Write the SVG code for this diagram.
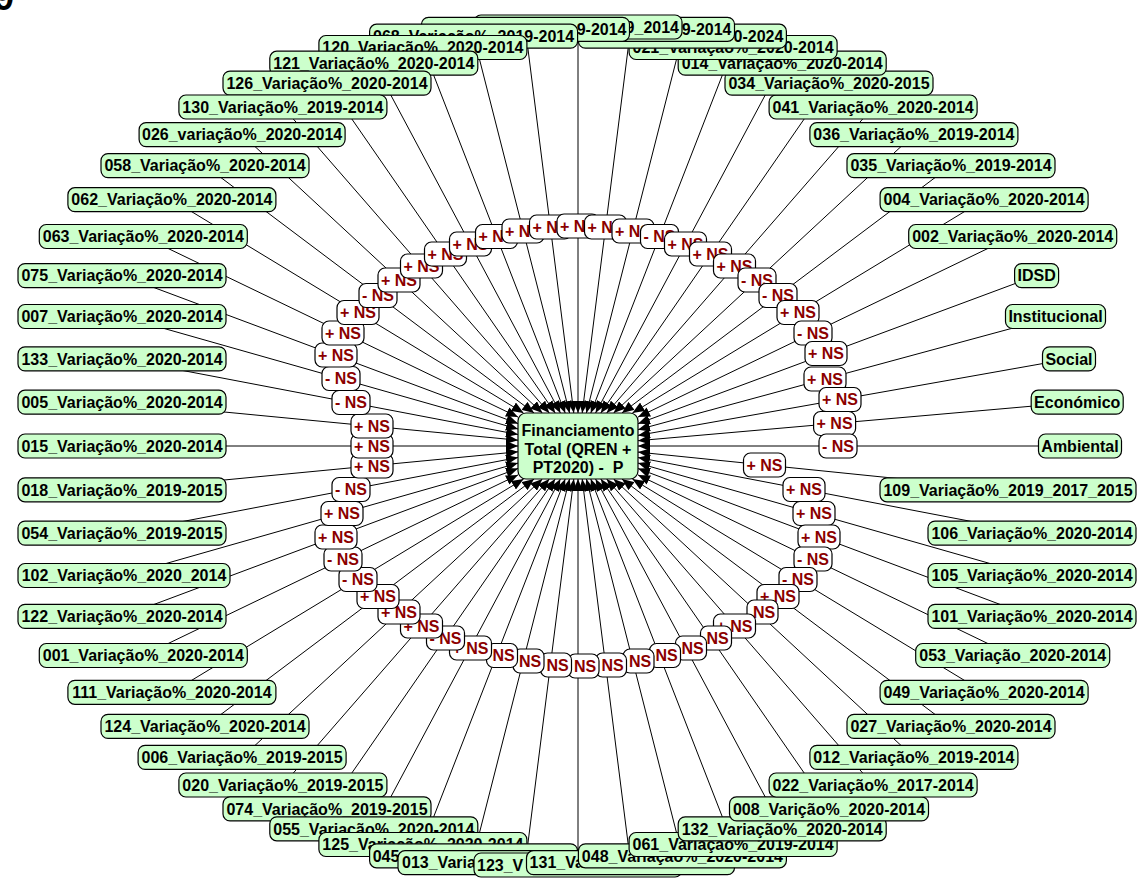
<svg xmlns="http://www.w3.org/2000/svg" width="1144" height="887" viewBox="0 0 1144 887">
<defs>
<marker id="ah" markerUnits="userSpaceOnUse" viewBox="0 0 12 10" markerWidth="12" markerHeight="10" refX="12" refY="5" orient="auto"><path d="M0,0 L12,5 L0,10 z" fill="#000"/></marker>
<style>
text{font-family:'Liberation Sans',Arial,Helvetica,sans-serif;font-weight:bold;font-size:16px}
.n rect{fill:#ccffcc;stroke:#000;stroke-width:1.2}
.n text{fill:#000;text-anchor:middle}
.n text.s{text-anchor:start}
.n text.e{text-anchor:end}
.l rect{fill:#fff;stroke:#000;stroke-width:1.2}
.l text{fill:#8b0000;text-anchor:middle}
#edges line{stroke:#000;stroke-width:1;marker-end:url(#ah)}
</style>
</defs>
<rect width="1144" height="887" fill="#fff"/>
<text x="-6" y="10" style="font-size:36px">9</text>
<g id="edges">
<line x1="1080" y1="446" x2="638" y2="446"/>
<line x1="1077.2" y1="402.2" x2="638" y2="440.7"/>
<line x1="1069" y1="358.9" x2="638" y2="435.4"/>
<line x1="1055.5" y1="316.5" x2="638" y2="429.7"/>
<line x1="1036.6" y1="275.6" x2="638" y2="423.7"/>
<line x1="1012.7" y1="236.5" x2="638" y2="417.1"/>
<line x1="984.1" y1="199.7" x2="632.4" y2="413"/>
<line x1="951" y1="165.6" x2="621.9" y2="413"/>
<line x1="913.9" y1="134.6" x2="613.6" y2="413"/>
<line x1="873.1" y1="107" x2="606.7" y2="413"/>
<line x1="829" y1="83.1" x2="600.8" y2="413"/>
<line x1="782.2" y1="63.2" x2="595.6" y2="413"/>
<line x1="733.1" y1="47.5" x2="590.8" y2="413"/>
<line x1="682.4" y1="36.2" x2="586.4" y2="413"/>
<line x1="630.5" y1="29.3" x2="582.2" y2="413"/>
<line x1="578" y1="27" x2="578" y2="413"/>
<line x1="525.5" y1="29.3" x2="573.8" y2="413"/>
<line x1="473.6" y1="36.2" x2="569.6" y2="413"/>
<line x1="422.9" y1="47.5" x2="565.2" y2="413"/>
<line x1="373.8" y1="63.2" x2="560.4" y2="413"/>
<line x1="327" y1="83.1" x2="555.2" y2="413"/>
<line x1="282.9" y1="107" x2="549.3" y2="413"/>
<line x1="242.1" y1="134.6" x2="542.4" y2="413"/>
<line x1="205" y1="165.6" x2="534.1" y2="413"/>
<line x1="171.9" y1="199.7" x2="523.6" y2="413"/>
<line x1="143.3" y1="236.5" x2="518" y2="417.1"/>
<line x1="122" y1="275.6" x2="518" y2="423.6"/>
<line x1="122" y1="316.5" x2="518" y2="429"/>
<line x1="122" y1="358.9" x2="518" y2="434.5"/>
<line x1="122" y1="402.2" x2="518" y2="440.2"/>
<line x1="122" y1="446" x2="518" y2="446"/>
<line x1="122" y1="489.8" x2="518" y2="451.8"/>
<line x1="122" y1="533.1" x2="518" y2="457.5"/>
<line x1="124" y1="575.5" x2="518" y2="463.1"/>
<line x1="122" y1="616.4" x2="518" y2="468.4"/>
<line x1="143.3" y1="655.5" x2="518" y2="474.9"/>
<line x1="171.9" y1="692.3" x2="523.6" y2="479"/>
<line x1="205" y1="726.4" x2="534.1" y2="479"/>
<line x1="242.1" y1="757.4" x2="542.4" y2="479"/>
<line x1="282.9" y1="785" x2="549.3" y2="479"/>
<line x1="327" y1="808.9" x2="555.2" y2="479"/>
<line x1="373.8" y1="828.8" x2="560.4" y2="479"/>
<line x1="422.9" y1="844.5" x2="565.2" y2="479"/>
<line x1="473.6" y1="855.8" x2="569.6" y2="479"/>
<line x1="525.5" y1="862.7" x2="573.8" y2="479"/>
<line x1="578" y1="865" x2="578" y2="479"/>
<line x1="630.5" y1="862.7" x2="582.2" y2="479"/>
<line x1="682.4" y1="855.8" x2="586.4" y2="479"/>
<line x1="733.1" y1="844.5" x2="590.8" y2="479"/>
<line x1="782.2" y1="828.8" x2="595.6" y2="479"/>
<line x1="829" y1="808.9" x2="600.8" y2="479"/>
<line x1="873.1" y1="785" x2="606.7" y2="479"/>
<line x1="913.9" y1="757.4" x2="613.6" y2="479"/>
<line x1="951" y1="726.4" x2="621.9" y2="479"/>
<line x1="984.1" y1="692.3" x2="632.4" y2="479"/>
<line x1="1012.7" y1="655.5" x2="638" y2="474.9"/>
<line x1="1032" y1="616.4" x2="638" y2="468.5"/>
<line x1="1032" y1="575.5" x2="638" y2="463.1"/>
<line x1="1032" y1="533.1" x2="638" y2="457.5"/>
<line x1="1008" y1="489.8" x2="638" y2="452.1"/>
</g>
<g id="edge-labels" class="l">
<g><rect x="743.5" y="453" width="42" height="24" rx="7"/><text x="764.5" y="470.7">+ NS</text></g>
<g><rect x="783" y="477.5" width="42" height="24" rx="7"/><text x="804" y="495.2">+ NS</text></g>
<g><rect x="793" y="501.5" width="42" height="24" rx="7"/><text x="814" y="519.2">+ NS</text></g>
<g><rect x="798" y="525" width="42" height="24" rx="7"/><text x="819" y="542.7">+ NS</text></g>
<g><rect x="794" y="547" width="38" height="24" rx="7"/><text x="813" y="564.7">- NS</text></g>
<g><rect x="779" y="567.5" width="38" height="24" rx="7"/><text x="798" y="585.2">- NS</text></g>
<g><rect x="757" y="584.5" width="42" height="24" rx="7"/><text x="778" y="602.2">+ NS</text></g>
<g><rect x="747" y="600" width="31" height="24" rx="7"/><text x="764" y="617.7">NS</text></g>
<g><rect x="713.5" y="614" width="42" height="24" rx="7"/><text x="734.5" y="631.7">+ NS</text></g>
<g><rect x="700.5" y="626" width="31" height="24" rx="7"/><text x="717.5" y="643.7">NS</text></g>
<g><rect x="675.5" y="636" width="31" height="24" rx="7"/><text x="692.5" y="653.7">NS</text></g>
<g><rect x="649.5" y="643.5" width="31" height="24" rx="7"/><text x="666.5" y="661.2">NS</text></g>
<g><rect x="623" y="649" width="31" height="24" rx="7"/><text x="640" y="666.7">NS</text></g>
<g><rect x="595.5" y="653" width="31" height="24" rx="7"/><text x="612.5" y="670.7">NS</text></g>
<g><rect x="568" y="654" width="31" height="24" rx="7"/><text x="585" y="671.7">NS</text></g>
<g><rect x="540.5" y="653" width="31" height="24" rx="7"/><text x="557.5" y="670.7">NS</text></g>
<g><rect x="513" y="649" width="31" height="24" rx="7"/><text x="530" y="666.7">NS</text></g>
<g><rect x="486.5" y="643.5" width="31" height="24" rx="7"/><text x="503.5" y="661.2">NS</text></g>
<g><rect x="449.5" y="636" width="42" height="24" rx="7"/><text x="470.5" y="653.7">+ NS</text></g>
<g><rect x="426.5" y="626" width="38" height="24" rx="7"/><text x="445.5" y="643.7">- NS</text></g>
<g><rect x="400.5" y="614" width="42" height="24" rx="7"/><text x="421.5" y="631.7">+ NS</text></g>
<g><rect x="378" y="600" width="42" height="24" rx="7"/><text x="399" y="617.7">+ NS</text></g>
<g><rect x="357" y="584.5" width="42" height="24" rx="7"/><text x="378" y="602.2">+ NS</text></g>
<g><rect x="339" y="567.5" width="38" height="24" rx="7"/><text x="358" y="585.2">- NS</text></g>
<g><rect x="324" y="547" width="38" height="24" rx="7"/><text x="343" y="564.7">- NS</text></g>
<g><rect x="315" y="525" width="42" height="24" rx="7"/><text x="336" y="542.7">+ NS</text></g>
<g><rect x="321" y="501.5" width="42" height="24" rx="7"/><text x="342" y="519.2">+ NS</text></g>
<g><rect x="332" y="477.5" width="38" height="24" rx="7"/><text x="351" y="495.2">- NS</text></g>
<g><rect x="351" y="454" width="42" height="24" rx="7"/><text x="372" y="471.7">+ NS</text></g>
<g><rect x="351" y="434" width="42" height="24" rx="7"/><text x="372" y="451.7">+ NS</text></g>
<g><rect x="351" y="414" width="42" height="24" rx="7"/><text x="372" y="431.7">+ NS</text></g>
<g><rect x="332" y="390.5" width="38" height="24" rx="7"/><text x="351" y="408.2">- NS</text></g>
<g><rect x="322" y="366.5" width="38" height="24" rx="7"/><text x="341" y="384.2">- NS</text></g>
<g><rect x="315" y="343" width="42" height="24" rx="7"/><text x="336" y="360.7">+ NS</text></g>
<g><rect x="322" y="321" width="42" height="24" rx="7"/><text x="343" y="338.7">+ NS</text></g>
<g><rect x="337" y="300.5" width="42" height="24" rx="7"/><text x="358" y="318.2">+ NS</text></g>
<g><rect x="359" y="283.5" width="38" height="24" rx="7"/><text x="378" y="301.2">- NS</text></g>
<g><rect x="378" y="268" width="42" height="24" rx="7"/><text x="399" y="285.7">+ NS</text></g>
<g><rect x="400.5" y="254" width="42" height="24" rx="7"/><text x="421.5" y="271.7">+ NS</text></g>
<g><rect x="424.5" y="242" width="42" height="24" rx="7"/><text x="445.5" y="259.7">+ NS</text></g>
<g><rect x="449.5" y="232" width="42" height="24" rx="7"/><text x="470.5" y="249.7">+ NS</text></g>
<g><rect x="475.5" y="224.5" width="42" height="24" rx="7"/><text x="496.5" y="242.2">+ NS</text></g>
<g><rect x="502" y="219" width="42" height="24" rx="7"/><text x="523" y="236.7">+ NS</text></g>
<g><rect x="529.5" y="215" width="42" height="24" rx="7"/><text x="550.5" y="232.7">+ NS</text></g>
<g><rect x="557" y="214" width="42" height="24" rx="7"/><text x="578" y="231.7">+ NS</text></g>
<g><rect x="584.5" y="215" width="42" height="24" rx="7"/><text x="605.5" y="232.7">+ NS</text></g>
<g><rect x="612" y="219" width="42" height="24" rx="7"/><text x="633" y="236.7">+ NS</text></g>
<g><rect x="640.5" y="224.5" width="38" height="24" rx="7"/><text x="659.5" y="242.2">- NS</text></g>
<g><rect x="664.5" y="232" width="42" height="24" rx="7"/><text x="685.5" y="249.7">+ NS</text></g>
<g><rect x="689.5" y="242" width="42" height="24" rx="7"/><text x="710.5" y="259.7">+ NS</text></g>
<g><rect x="713.5" y="254" width="42" height="24" rx="7"/><text x="734.5" y="271.7">+ NS</text></g>
<g><rect x="738" y="268" width="38" height="24" rx="7"/><text x="757" y="285.7">- NS</text></g>
<g><rect x="759" y="283.5" width="38" height="24" rx="7"/><text x="778" y="301.2">- NS</text></g>
<g><rect x="777" y="300.5" width="42" height="24" rx="7"/><text x="798" y="318.2">+ NS</text></g>
<g><rect x="794" y="321" width="38" height="24" rx="7"/><text x="813" y="338.7">- NS</text></g>
<g><rect x="805" y="341.5" width="42" height="24" rx="7"/><text x="826" y="359.2">+ NS</text></g>
<g><rect x="804" y="367" width="42" height="24" rx="7"/><text x="825" y="384.7">+ NS</text></g>
<g><rect x="819" y="387.5" width="42" height="24" rx="7"/><text x="840" y="405.2">+ NS</text></g>
<g><rect x="813.6" y="411.5" width="42" height="24" rx="7"/><text x="834.6" y="429.2">+ NS</text></g>
<g><rect x="819" y="434" width="38" height="24" rx="7"/><text x="838" y="451.7">- NS</text></g>
</g>
<g id="nodes" class="n">
<g id="n-ambiental"><rect x="1038.5" y="434" width="83" height="24" rx="7"/><text x="1080" y="451.7">Ambiental</text></g>
<g id="n-economico"><rect x="1031.2" y="390.2" width="92" height="24" rx="7"/><text x="1077.2" y="407.9">Económico</text></g>
<g id="n-social"><rect x="1042.5" y="346.9" width="53" height="24" rx="7"/><text x="1069" y="364.6">Social</text></g>
<g id="n-institucional"><rect x="1005.5" y="304.5" width="100" height="24" rx="7"/><text x="1055.5" y="322.2">Institucional</text></g>
<g id="n-idsd"><rect x="1014.6" y="263.6" width="44" height="24" rx="7"/><text x="1036.6" y="281.3">IDSD</text></g>
<g id="n-002"><rect x="908.7" y="224.5" width="208" height="24" rx="7"/><text x="1012.7" y="242.2">002_Variação%_2020-2014</text></g>
<g id="n-004"><rect x="880.1" y="187.7" width="208" height="24" rx="7"/><text x="984.1" y="205.4">004_Variação%_2020-2014</text></g>
<g id="n-035"><rect x="847" y="153.6" width="208" height="24" rx="7"/><text x="951" y="171.3">035_Variação%_2019-2014</text></g>
<g id="n-036"><rect x="809.9" y="122.6" width="208" height="24" rx="7"/><text x="913.9" y="140.3">036_Variação%_2019-2014</text></g>
<g id="n-041"><rect x="769.1" y="95" width="208" height="24" rx="7"/><text x="873.1" y="112.7">041_Variação%_2020-2014</text></g>
<g id="n-034"><rect x="725" y="71.1" width="208" height="24" rx="7"/><text x="829" y="88.8">034_Variação%_2020-2015</text></g>
<g id="n-014"><rect x="678.2" y="51.2" width="208" height="24" rx="7"/><text x="782.2" y="68.9">014_Variação%_2020-2014</text></g>
<g id="n-021"><rect x="629.1" y="35.5" width="208" height="24" rx="7"/><text x="733.1" y="53.2">021_Variação%_2020-2014</text></g>
<g id="n-top-d"><rect x="578.4" y="24.2" width="208" height="24" rx="7"/><text class="e" x="783.4" y="41.9">0-2024</text></g>
<g id="n-top-c"><rect x="526.5" y="17.3" width="208" height="24" rx="7"/><text class="e" x="731.5" y="35">9-2014</text></g>
<g id="n-top-b"><rect x="474" y="15" width="208" height="24" rx="7"/><text class="e" x="679" y="32.7">9_2014</text></g>
<g id="n-top-a"><rect x="421.5" y="17.3" width="208" height="24" rx="7"/><text class="e" x="626.5" y="35">9-2014</text></g>
<g id="n-068"><rect x="369.6" y="24.2" width="208" height="24" rx="7"/><text x="473.6" y="41.9">068_Variação%_2019-2014</text></g>
<g id="n-120"><rect x="318.9" y="35.5" width="208" height="24" rx="7"/><text x="422.9" y="53.2">120_Variação%_2020-2014</text></g>
<g id="n-121"><rect x="269.8" y="51.2" width="208" height="24" rx="7"/><text x="373.8" y="68.9">121_Variação%_2020-2014</text></g>
<g id="n-126"><rect x="223" y="71.1" width="208" height="24" rx="7"/><text x="327" y="88.8">126_Variação%_2020-2014</text></g>
<g id="n-130"><rect x="178.9" y="95" width="208" height="24" rx="7"/><text x="282.9" y="112.7">130_Variação%_2019-2014</text></g>
<g id="n-026"><rect x="139.1" y="122.6" width="206" height="24" rx="7"/><text x="242.1" y="140.3">026_variação%_2020-2014</text></g>
<g id="n-058"><rect x="101" y="153.6" width="208" height="24" rx="7"/><text x="205" y="171.3">058_Variação%_2020-2014</text></g>
<g id="n-062"><rect x="67.9" y="187.7" width="208" height="24" rx="7"/><text x="171.9" y="205.4">062_Variação%_2020-2014</text></g>
<g id="n-063"><rect x="39.3" y="224.5" width="208" height="24" rx="7"/><text x="143.3" y="242.2">063_Variação%_2020-2014</text></g>
<g id="n-075"><rect x="18" y="263.6" width="208" height="24" rx="7"/><text x="122" y="281.3">075_Variação%_2020-2014</text></g>
<g id="n-007"><rect x="18" y="304.5" width="208" height="24" rx="7"/><text x="122" y="322.2">007_Variação%_2020-2014</text></g>
<g id="n-133"><rect x="18" y="346.9" width="208" height="24" rx="7"/><text x="122" y="364.6">133_Variação%_2020-2014</text></g>
<g id="n-005"><rect x="18" y="390.2" width="208" height="24" rx="7"/><text x="122" y="407.9">005_Variação%_2020-2014</text></g>
<g id="n-015"><rect x="18" y="434" width="208" height="24" rx="7"/><text x="122" y="451.7">015_Variação%_2020-2014</text></g>
<g id="n-018"><rect x="18" y="477.8" width="208" height="24" rx="7"/><text x="122" y="495.5">018_Variação%_2019-2015</text></g>
<g id="n-054"><rect x="18" y="521.1" width="208" height="24" rx="7"/><text x="122" y="538.8">054_Variação%_2019-2015</text></g>
<g id="n-102"><rect x="18" y="563.5" width="212" height="24" rx="7"/><text x="124" y="581.2">102_Variação%_2020_2014</text></g>
<g id="n-122"><rect x="18" y="604.4" width="208" height="24" rx="7"/><text x="122" y="622.1">122_Variação%_2020-2014</text></g>
<g id="n-001"><rect x="39.3" y="643.5" width="208" height="24" rx="7"/><text x="143.3" y="661.2">001_Variação%_2020-2014</text></g>
<g id="n-111"><rect x="67.9" y="680.3" width="208" height="24" rx="7"/><text x="171.9" y="698">111_Variação%_2020-2014</text></g>
<g id="n-124"><rect x="101" y="714.4" width="208" height="24" rx="7"/><text x="205" y="732.1">124_Variação%_2020-2014</text></g>
<g id="n-006"><rect x="138.1" y="745.4" width="208" height="24" rx="7"/><text x="242.1" y="763.1">006_Variação%_2019-2015</text></g>
<g id="n-020"><rect x="178.9" y="773" width="208" height="24" rx="7"/><text x="282.9" y="790.7">020_Variação%_2019-2015</text></g>
<g id="n-074"><rect x="223" y="796.9" width="208" height="24" rx="7"/><text x="327" y="814.6">074_Variação%_2019-2015</text></g>
<g id="n-055"><rect x="269.8" y="816.8" width="208" height="24" rx="7"/><text x="373.8" y="834.5">055_Variação%_2020-2014</text></g>
<g id="n-125"><rect x="318.9" y="832.5" width="208" height="24" rx="7"/><text x="422.9" y="850.2">125_Variação%_2020-2014</text></g>
<g id="n-045"><rect x="369.6" y="843.8" width="208" height="24" rx="7"/><text class="s" x="372.7" y="861.5">045</text></g>
<g id="n-013"><rect x="398" y="850.7" width="255" height="24" rx="7"/><text class="s" x="402" y="868.4">013_Varia</text></g>
<g id="n-123"><rect x="474" y="853" width="208" height="24" rx="7"/><text class="s" x="477" y="870.7">123_V</text></g>
<g id="n-131"><rect x="526.5" y="850.7" width="208" height="24" rx="7"/><text class="s" x="529.6" y="868.4">131_Va</text></g>
<g id="n-048"><rect x="578.4" y="843.8" width="208" height="24" rx="7"/><text x="682.4" y="861.5">048_Variação%_2020-2014</text></g>
<g id="n-061"><rect x="629.1" y="832.5" width="208" height="24" rx="7"/><text x="733.1" y="850.2">061_Variação%_2019-2014</text></g>
<g id="n-132"><rect x="678.2" y="816.8" width="208" height="24" rx="7"/><text x="782.2" y="834.5">132_Variação%_2020-2014</text></g>
<g id="n-008"><rect x="729.5" y="796.9" width="199" height="24" rx="7"/><text x="829" y="814.6">008_Varição%_2020-2014</text></g>
<g id="n-022"><rect x="769.1" y="773" width="208" height="24" rx="7"/><text x="873.1" y="790.7">022_Variação%_2017-2014</text></g>
<g id="n-012"><rect x="809.9" y="745.4" width="208" height="24" rx="7"/><text x="913.9" y="763.1">012_Variação%_2019-2014</text></g>
<g id="n-027"><rect x="847" y="714.4" width="208" height="24" rx="7"/><text x="951" y="732.1">027_Variação%_2020-2014</text></g>
<g id="n-049"><rect x="880.1" y="680.3" width="208" height="24" rx="7"/><text x="984.1" y="698">049_Variação%_2020-2014</text></g>
<g id="n-053"><rect x="915.7" y="643.5" width="194" height="24" rx="7"/><text x="1012.7" y="661.2">053_Variação_2020-2014</text></g>
<g id="n-101"><rect x="928" y="604.4" width="208" height="24" rx="7"/><text x="1032" y="622.1">101_Variação%_2020-2014</text></g>
<g id="n-105"><rect x="928" y="563.5" width="208" height="24" rx="7"/><text x="1032" y="581.2">105_Variação%_2020-2014</text></g>
<g id="n-106"><rect x="928" y="521.1" width="208" height="24" rx="7"/><text x="1032" y="538.8">106_Variação%_2020-2014</text></g>
<g id="n-109"><rect x="880" y="477.8" width="256" height="24" rx="7"/><text x="1008" y="495.5">109_Variação%_2019_2017_2015</text></g>
<g id="n-hub"><rect x="518" y="413" width="120" height="66" rx="8"/><text x="578" y="436">Financiamento</text><text x="578" y="454.5">Total (QREN +</text><text x="578" y="473" style="white-space:pre">PT2020) -  P</text></g>
</g>
</svg>
